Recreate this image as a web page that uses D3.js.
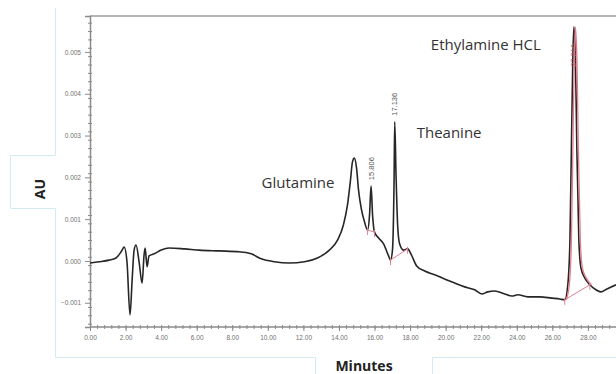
<!DOCTYPE html>
<html>
<head>
<meta charset="utf-8">
<script src="https://cdn.jsdelivr.net/npm/d3@7/dist/d3.min.js"></script>
<style>
  html, body { margin: 0; padding: 0; background: #fff; }
  svg { display: block; }
</style>
</head>
<body>
<script>
// Chromatogram trace: retention time (min) and detector response (AU)
const minutes = [
  0.00, 0.51, 1.07, 1.46, 1.75, 1.92, 2.08, 2.25, 2.37, 2.48, 2.59, 2.76, 2.93, 3.04, 3.10,
  3.21, 3.32, 3.61, 4.00, 4.45, 5.30, 6.14, 7.27, 8.39, 9.07, 9.63, 10.37, 11.21, 12.06, 12.79,
  13.46, 13.92, 14.25, 14.48, 14.65, 14.76, 14.87, 14.99, 15.10, 15.27, 15.44, 15.61, 15.72,
  15.806, 15.89, 16.00, 16.23, 16.51, 16.79, 16.90, 17.01, 17.10, 17.136, 17.21, 17.30, 17.41,
  17.63, 17.86, 18.08, 18.37, 18.82, 19.38, 19.94, 20.51, 21.07, 21.63, 22.03, 22.37, 22.76,
  23.32, 23.72, 24.06, 24.62, 25.30, 25.97, 26.42, 26.70, 26.87, 26.99, 27.07, 27.15, 27.21,
  27.30, 27.38, 27.49, 27.61, 27.83, 28.11, 28.45, 28.73, 29.07, 29.58
];
const absorbance = [
  -0.00005, -0.00002, 0.00002, 0.00007, 0.00022, 0.00033, -0.00002, -0.00129, -0.00045, 0.00026,
  0.00038, -0.00002, -0.00053, 0.00014, 0.00031, -0.00014, 0.00012, 0.00017, 0.00026, 0.00031,
  0.00029, 0.00026, 0.00024, 0.00022, 0.00017, 0.00005, -0.00002, -0.00005, -0.00002, 0.00007,
  0.00026, 0.00050, 0.00086, 0.00134, 0.00194, 0.00237, 0.00246, 0.00222, 0.00170, 0.00122,
  0.00093, 0.00074, 0.00110, 0.00179, 0.00110, 0.00069, 0.00055, 0.00041, 0.00012, 0.00002,
  0.00026, 0.00194, 0.00333, 0.00206, 0.00086, 0.00041, 0.00026, 0.00029, 0.00014, -0.00012,
  -0.00024, -0.00033, -0.00043, -0.00053, -0.00062, -0.00069, -0.00079, -0.00074, -0.00072,
  -0.00079, -0.00084, -0.00081, -0.00086, -0.00086, -0.00089, -0.00091, -0.00093, -0.00057,
  0.00050, 0.00266, 0.00481, 0.00560, 0.00481, 0.00266, 0.00050, -0.00017, -0.00041, -0.00057,
  -0.00069, -0.00074, -0.00067, -0.00057
];

// Integrated peaks: retention-time labels and integration start/end times
const peakTimes = [15.806, 17.136, 27.210];
const peakLabels = ["15.806", "17.136", "27.210"];
const integrationStart = [15.61, 16.90, 26.70];
const integrationEnd = [16.00, 17.86, 28.11];

// Compound names
const compoundNames = ["Glutamine", "Theanine", "Ethylamine HCL"];
const compoundTimes = [14.76, 17.136, 27.21];

// Axis ticks
const xTicks = [0, 2, 4, 6, 8, 10, 12, 14, 16, 18, 20, 22, 24, 26, 28];
const yTicks = [-0.001, 0, 0.001, 0.002, 0.003, 0.004, 0.005];

const W = 616, H = 374;
const plot = { left: 90, top: 16, right: 616, bottom: 327 };

const svg = d3.select("body").append("svg")
  .attr("width", W).attr("height", H);

// faint frame lines of the surrounding panel
const frame = svg.append("g").attr("stroke", "#d4ebf3").attr("stroke-width", 1).attr("fill", "none");
frame.append("path").attr("d", "M55.5,8 V155.5 M55.5,208.5 V357.5 H315.5 V374 M432.5,374 V357.5 H616");
frame.append("path").attr("d", "M55.5,155.5 H10.5 V208.5 H55.5");

const x = d3.scaleLinear().domain([0, 29.58]).range([plot.left, plot.right]);
const y = d3.scaleLinear().domain([-0.00158, 0.00586]).range([plot.bottom, plot.top]);

svg.append("clipPath").attr("id", "plotClip")
  .append("rect")
  .attr("x", plot.left).attr("y", plot.top - 2)
  .attr("width", plot.right - plot.left).attr("height", plot.bottom - plot.top + 2);

// top border
svg.append("line")
  .attr("x1", plot.left).attr("x2", plot.right)
  .attr("y1", plot.top).attr("y2", plot.top)
  .attr("stroke", "#b5b5b5").attr("stroke-width", 2);

// minor ticks
const xMinor = d3.range(0, 29.58, 0.4);
const yMinor = d3.range(-0.0015, 0.00586, 0.0002);

const xAxis = d3.axisBottom(x).tickValues(xTicks).tickFormat(d3.format(".2f")).tickSize(4).tickPadding(4);
const yAxis = d3.axisLeft(y).tickValues(yTicks).tickFormat(d3.format(".3f")).tickSize(5).tickPadding(4);

const gxMinor = svg.append("g").attr("transform", `translate(0,${plot.bottom})`)
  .call(d3.axisBottom(x).tickValues(xMinor).tickFormat("").tickSize(2));
gxMinor.select(".domain").remove();
gxMinor.selectAll("line").attr("stroke", "#8a8a8a").attr("y1", -2);

const gyMinor = svg.append("g").attr("transform", `translate(${plot.left},0)`)
  .call(d3.axisLeft(y).tickValues(yMinor).tickFormat("").tickSize(2));
gyMinor.select(".domain").remove();
gyMinor.selectAll("line").attr("stroke", "#8a8a8a").attr("x1", 2);

const gx = svg.append("g").attr("transform", `translate(0,${plot.bottom})`).call(xAxis);
const gy = svg.append("g").attr("transform", `translate(${plot.left},0)`).call(yAxis);

[gx, gy].forEach(g => {
  g.select(".domain").attr("stroke", "#8a8a8a").attr("stroke-width", 1.5);
  g.selectAll(".tick line").attr("stroke", "#8a8a8a");
  g.selectAll(".tick text")
    .attr("fill", "#6f6f6f")
    .style("font-family", "'Liberation Sans', Arial, sans-serif")
    .style("font-size", "6.5px");
});
gx.select(".domain").attr("d", `M${plot.left},0H${plot.right}`);

// chromatogram trace
const trace = minutes.map((m, i) => [m, absorbance[i]]);
const line = d3.line().x(d => x(d[0])).y(d => y(d[1])).curve(d3.curveMonotoneX);

const traceG = svg.append("g").attr("clip-path", "url(#plotClip)");
traceG.append("path")
  .datum(trace)
  .attr("d", line)
  .attr("fill", "none")
  .attr("stroke", "#262626")
  .attr("stroke-width", 1.6)
  .attr("stroke-linejoin", "round");

// interpolate the trace response at a given time
const valueAt = t => {
  const i = d3.bisectLeft(minutes, t);
  if (i <= 0) return absorbance[0];
  if (i >= minutes.length) return absorbance[absorbance.length - 1];
  const t0 = minutes[i - 1], t1 = minutes[i];
  const f = (t - t0) / (t1 - t0);
  return absorbance[i - 1] + f * (absorbance[i] - absorbance[i - 1]);
};

const pink = "#e37f8f";

// integrated main peak outline
const lastPeak = trace.filter(d => d[0] >= integrationStart[2] && d[0] <= integrationEnd[2]);
traceG.append("path")
  .datum(lastPeak)
  .attr("d", line)
  .attr("transform", "translate(1.5,0)")
  .attr("fill", "none")
  .attr("stroke", pink)
  .attr("stroke-width", 1.3);

// integration baselines and start/stop marks
peakTimes.forEach((p, i) => {
  const s = integrationStart[i], e = integrationEnd[i];
  traceG.append("line")
    .attr("x1", x(s)).attr("y1", y(valueAt(s)))
    .attr("x2", x(e)).attr("y2", y(valueAt(e)))
    .attr("stroke", pink).attr("stroke-width", 1);
  [s, e].forEach(t => {
    traceG.append("line")
      .attr("x1", x(t)).attr("x2", x(t))
      .attr("y1", y(valueAt(t)) - 2).attr("y2", y(valueAt(t)) + 5)
      .attr("stroke", pink).attr("stroke-width", 1);
  });
});

// retention time labels
peakTimes.forEach((p, i) => {
  const px = x(p), py = y(valueAt(p));
  const top = i === 2 ? py + 40 : py - 6;
  svg.append("text")
    .attr("transform", `translate(${px + 2.5},${top}) rotate(-90)`)
    .attr("text-anchor", "start")
    .attr("fill", i === 2 ? "#c05a6a" : "#555")
    .style("font-family", "'Liberation Sans', Arial, sans-serif")
    .style("font-size", "7.5px")
    .text(peakLabels[i]);
});

// compound names
const nameFont = "'Open Sans', 'Liberation Sans', sans-serif";
const namePos = [
  { dx: -18, au: 0.00175, anchor: "end" },
  { dx: 22, au: 0.00294, anchor: "start" },
  { dx: -33, au: 0.00504, anchor: "end" }
];
compoundNames.forEach((n, i) => {
  svg.append("text")
    .attr("x", x(compoundTimes[i]) + namePos[i].dx)
    .attr("y", y(namePos[i].au))
    .attr("text-anchor", namePos[i].anchor)
    .attr("fill", "#333")
    .style("font-family", nameFont)
    .style("font-size", "15px")
    .text(n);
});

// axis titles
svg.append("text")
  .attr("transform", "translate(45,189) rotate(-90)")
  .attr("text-anchor", "middle")
  .attr("fill", "#222")
  .style("font-family", nameFont)
  .style("font-weight", "bold")
  .style("font-size", "14px")
  .text("AU");

svg.append("text")
  .attr("x", 364).attr("y", 371)
  .attr("text-anchor", "middle")
  .attr("fill", "#222")
  .style("font-family", nameFont)
  .style("font-weight", "bold")
  .style("font-size", "14px")
  .text("Minutes");
</script>
</body>
</html>
